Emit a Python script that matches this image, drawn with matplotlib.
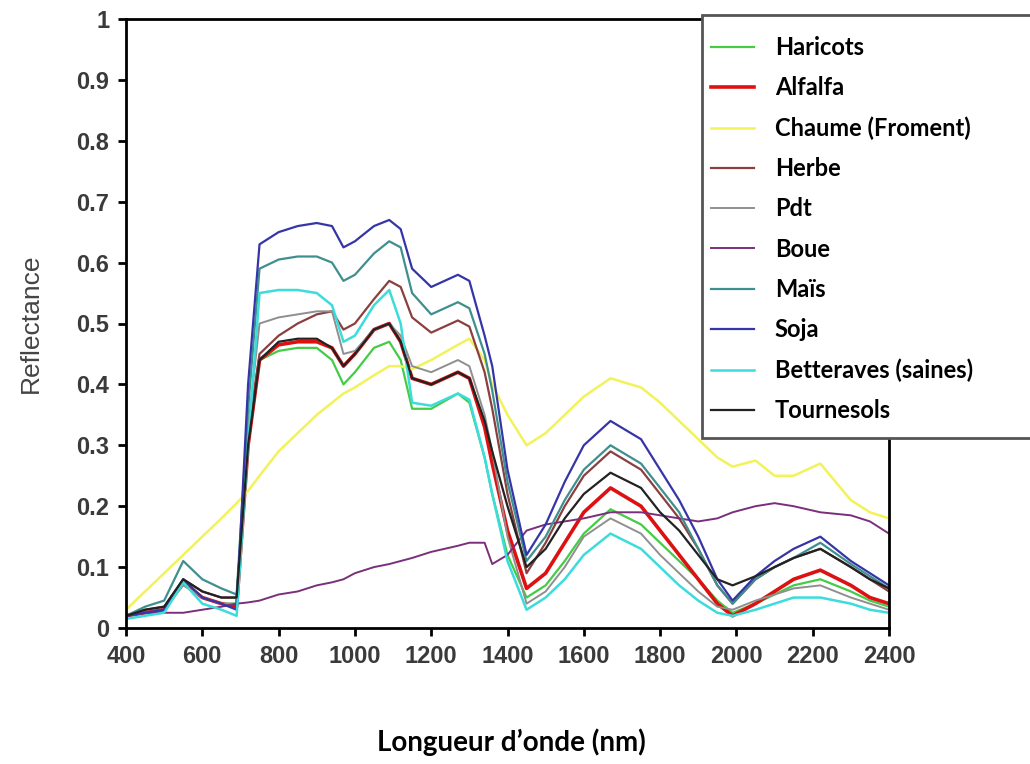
import numpy as np
import matplotlib
matplotlib.use("Agg")
import matplotlib.pyplot as plt
from matplotlib.patches import Rectangle

# --------------------------------------------------------------------
# data
wl = [400, 450, 500, 550, 600, 650, 690, 720, 750, 800, 850, 900, 940, 970, 1000,
      1050, 1090, 1120, 1150, 1200, 1270, 1300, 1340, 1360, 1400, 1450, 1500, 1550,
      1600, 1670, 1750, 1800, 1850, 1900, 1950, 1990, 2050, 2100, 2150, 2220, 2300,
      2350, 2400]

haricots = [0.02, 0.025, 0.03, 0.075, 0.05, 0.04, 0.04, 0.30, 0.44, 0.455,
            0.46, 0.46, 0.44, 0.40, 0.42, 0.46, 0.47, 0.44, 0.36, 0.36,
            0.385, 0.37, 0.28, 0.22, 0.12, 0.05, 0.07, 0.11, 0.155, 0.195,
            0.17, 0.14, 0.11, 0.08, 0.045, 0.025, 0.04, 0.055, 0.07, 0.08,
            0.06, 0.045, 0.035]
alfalfa = [0.02, 0.025, 0.03, 0.075, 0.05, 0.04, 0.035, 0.30, 0.44, 0.465,
           0.47, 0.47, 0.46, 0.43, 0.45, 0.49, 0.50, 0.47, 0.41, 0.40,
           0.42, 0.41, 0.33, 0.27, 0.16, 0.065, 0.09, 0.14, 0.19, 0.23,
           0.20, 0.16, 0.12, 0.08, 0.04, 0.02, 0.04, 0.06, 0.08, 0.095,
           0.07, 0.05, 0.04]
chaume = [0.03, 0.06, 0.09, 0.12, 0.15, 0.18, 0.205, 0.225, 0.25, 0.29,
          0.32, 0.35, 0.37, 0.385, 0.395, 0.415, 0.43, 0.43, 0.425, 0.44,
          0.465, 0.475, 0.44, 0.40, 0.35, 0.30, 0.32, 0.35, 0.38, 0.41,
          0.395, 0.37, 0.34, 0.31, 0.28, 0.265, 0.275, 0.25, 0.25, 0.27,
          0.21, 0.19, 0.18]
herbe = [0.02, 0.03, 0.035, 0.08, 0.06, 0.05, 0.05, 0.32, 0.45, 0.48,
         0.50, 0.515, 0.52, 0.49, 0.50, 0.54, 0.57, 0.56, 0.51, 0.485,
         0.505, 0.495, 0.42, 0.36, 0.22, 0.09, 0.14, 0.20, 0.25, 0.29,
         0.26, 0.22, 0.18, 0.13, 0.07, 0.04, 0.08, 0.10, 0.115, 0.13,
         0.10, 0.08, 0.06]
pdt = [0.02, 0.025, 0.03, 0.07, 0.05, 0.04, 0.04, 0.33, 0.50, 0.51,
       0.515, 0.52, 0.52, 0.45, 0.455, 0.49, 0.50, 0.48, 0.43, 0.42,
       0.44, 0.43, 0.35, 0.29, 0.15, 0.04, 0.06, 0.10, 0.15, 0.18,
       0.155, 0.12, 0.09, 0.06, 0.035, 0.03, 0.045, 0.055, 0.065, 0.07,
       0.05, 0.04, 0.03]
boue = [0.02, 0.025, 0.025, 0.025, 0.03, 0.035, 0.04, 0.042, 0.045, 0.055,
        0.06, 0.07, 0.075, 0.08, 0.09, 0.10, 0.105, 0.11, 0.115, 0.125,
        0.135, 0.14, 0.14, 0.105, 0.12, 0.16, 0.17, 0.175, 0.18, 0.19,
        0.19, 0.185, 0.18, 0.175, 0.18, 0.19, 0.20, 0.205, 0.20, 0.19,
        0.185, 0.175, 0.155]
mais = [0.02, 0.035, 0.045, 0.11, 0.08, 0.065, 0.055, 0.36, 0.59, 0.605,
        0.61, 0.61, 0.60, 0.57, 0.58, 0.615, 0.635, 0.625, 0.55, 0.515,
        0.535, 0.525, 0.45, 0.39, 0.24, 0.11, 0.15, 0.21, 0.26, 0.30,
        0.27, 0.23, 0.19, 0.13, 0.07, 0.04, 0.08, 0.10, 0.115, 0.14,
        0.105, 0.085, 0.065]
soja = [0.02, 0.025, 0.03, 0.08, 0.05, 0.04, 0.03, 0.40, 0.63, 0.65,
        0.66, 0.665, 0.66, 0.625, 0.635, 0.66, 0.67, 0.655, 0.59, 0.56,
        0.58, 0.57, 0.48, 0.43, 0.26, 0.12, 0.17, 0.24, 0.30, 0.34,
        0.31, 0.26, 0.21, 0.15, 0.08, 0.045, 0.085, 0.11, 0.13, 0.15,
        0.11, 0.09, 0.07]
betteraves = [0.015, 0.02, 0.025, 0.075, 0.04, 0.03, 0.02, 0.30, 0.55, 0.555,
              0.555, 0.55, 0.53, 0.47, 0.48, 0.53, 0.555, 0.50, 0.37, 0.365,
              0.385, 0.375, 0.28, 0.22, 0.11, 0.03, 0.05, 0.08, 0.12, 0.155,
              0.13, 0.10, 0.07, 0.045, 0.025, 0.02, 0.03, 0.04, 0.05, 0.05,
              0.04, 0.03, 0.025]
tournesols = [0.02, 0.03, 0.035, 0.08, 0.06, 0.05, 0.05, 0.30, 0.44, 0.47,
              0.475, 0.475, 0.46, 0.43, 0.45, 0.49, 0.50, 0.47, 0.41, 0.40,
              0.42, 0.41, 0.34, 0.29, 0.20, 0.10, 0.13, 0.18, 0.22, 0.255,
              0.23, 0.19, 0.16, 0.12, 0.08, 0.07, 0.085, 0.10, 0.115, 0.13,
              0.10, 0.08, 0.065]

labels = ["Haricots", "Alfalfa", "Chaume (Froment)", "Herbe", "Pdt", "Boue",
          "Maïs", "Soja", "Betteraves (saines)", "Tournesols"]
series = [haricots, alfalfa, chaume, herbe, pdt, boue, mais, soja, betteraves, tournesols]
colors = ["#44cc44", "#dd1111", "#f2f25a", "#8b3f3f", "#8f8f8f", "#7b2f7b",
          "#3f8f8f", "#3535a8", "#3ddcdc", "#222222"]
widths = [1.6, 2.6, 1.8, 1.6, 1.4, 1.4, 1.6, 1.6, 1.8, 1.6]

xticks = [400, 600, 800, 1000, 1200, 1400, 1600, 1800, 2000, 2200, 2400]
yticks = [0, 0.1, 0.2, 0.3, 0.4, 0.5, 0.6, 0.7, 0.8, 0.9, 1]
ytick_labels = ["0", "0.1", "0.2", "0.3", "0.4", "0.5", "0.6", "0.7", "0.8", "0.9", "1"]

# --------------------------------------------------------------------
# figure
W, H = 1030, 764
fig = plt.figure(figsize=(W / 100, H / 100), dpi=100)
ax = fig.add_axes([126 / W, 1 - 628 / H, (889 - 126) / W, (628 - 19) / H])

lines = []
for y, lab, col, lw in zip(series, labels, colors, widths):
    ln, = ax.plot(wl, y, color=col, lw=lw, label=lab)
    lines.append(ln)

ax.set_xlim(400, 2400)
ax.set_ylim(0, 1)
ax.set_xticks(xticks)
ax.set_yticks(yticks)
ax.set_yticklabels(ytick_labels)
for s in ax.spines.values():
    s.set_linewidth(2.0)
    s.set_color("black")
ax.tick_params(direction="out", length=6, width=2, labelsize=17, labelcolor="#3a3a3a", pad=6)
for t in ax.get_xticklabels() + ax.get_yticklabels():
    t.set_fontfamily("Liberation Sans")
    t.set_fontweight("bold")

ax.set_ylabel("Reflectance", fontsize=19, color="#444444", family="Liberation Sans", labelpad=24)

fig.text(511 / W, 1 - 742 / H, "Longueur d\u2019onde (nm)", ha="center", va="center",
         fontsize=20, fontweight="bold", family="Lato")

# legend box (runs past the right edge of the figure)
fig.patches.append(Rectangle((702 / W, 1 - 438 / H), (W - 702 + 20) / W, (438 - 15) / H,
                             transform=fig.transFigure, facecolor="white",
                             edgecolor="#555555", lw=2, zorder=3))
leg = fig.legend(handles=lines, loc="upper left", bbox_to_anchor=(711 / W, 1 - 36 / H),
                 frameon=False, prop={"family": "Lato", "weight": "bold", "size": 17},
                 handlelength=1.8, handletextpad=0.9, labelspacing=0.73,
                 borderpad=0, borderaxespad=0)
leg.set_zorder(4)

plt.savefig("out.png", dpi=100)
